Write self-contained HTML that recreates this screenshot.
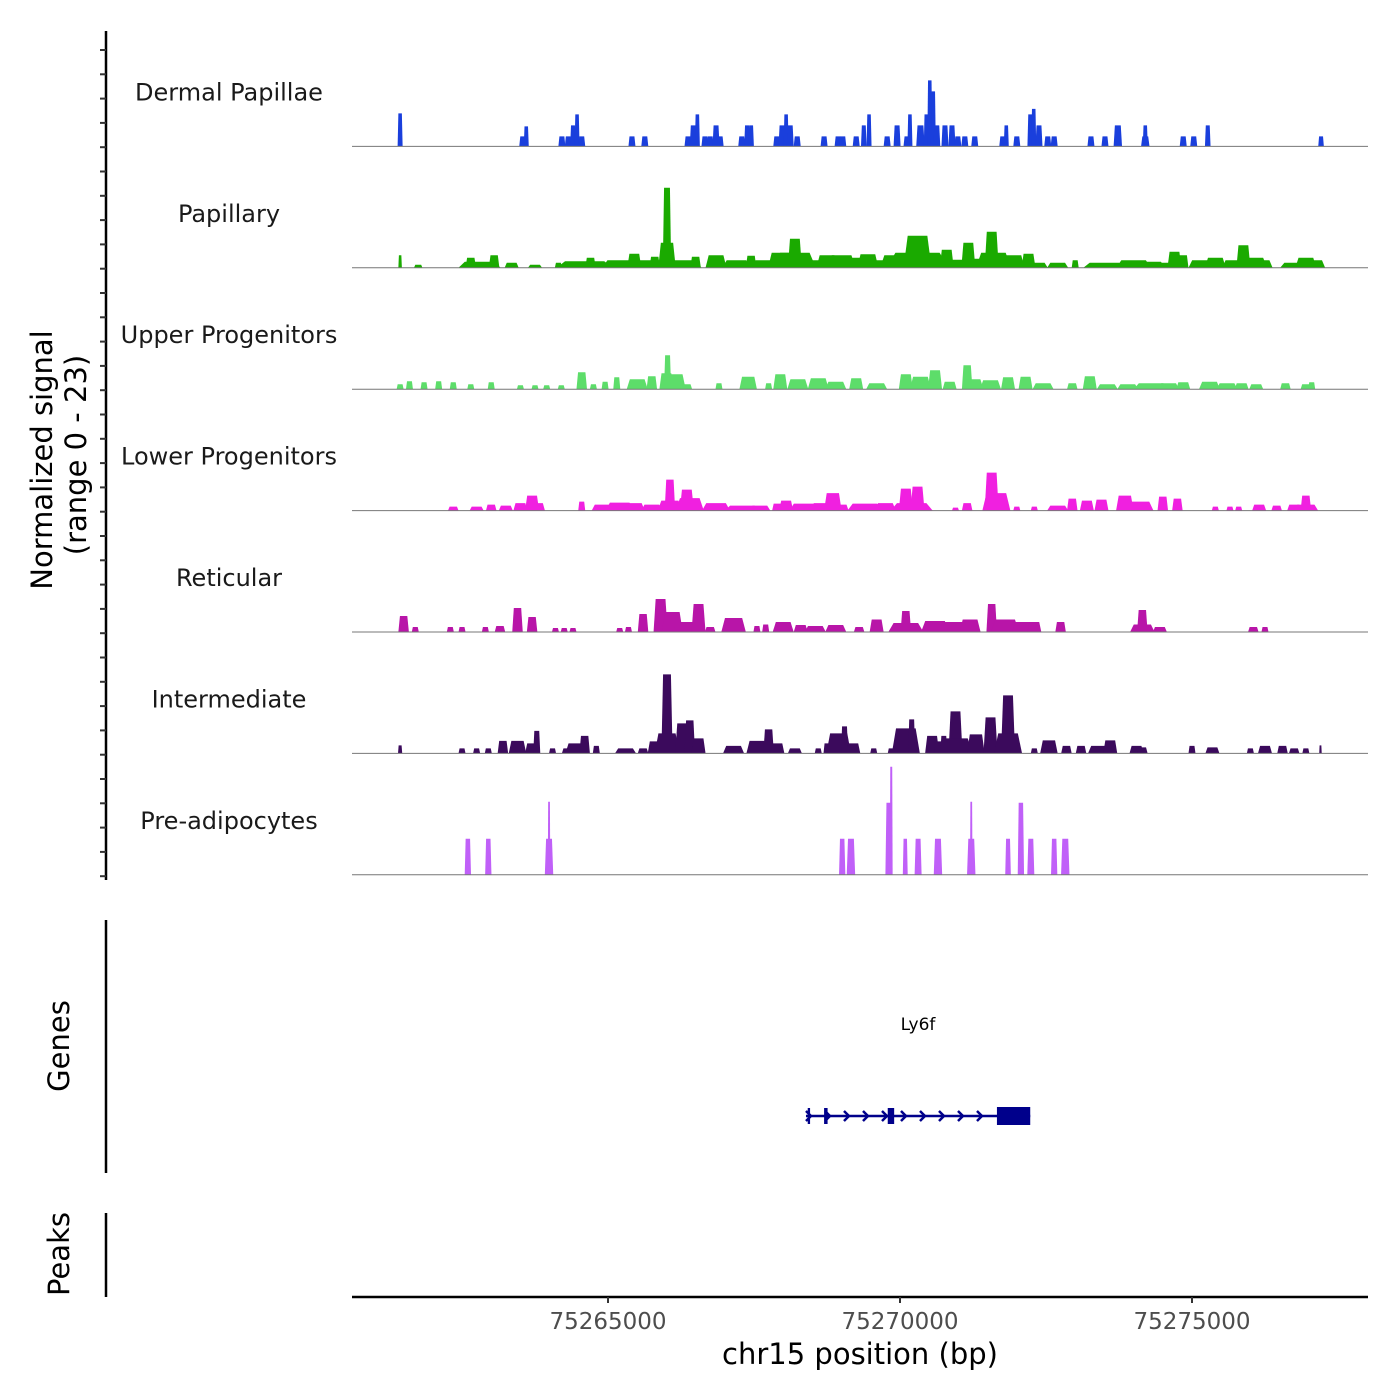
<!DOCTYPE html>
<html><head><meta charset="utf-8">
<style>
html,body{margin:0;padding:0;background:#fff;}
svg{display:block;font-family:"DejaVu Sans","Liberation Sans",sans-serif;}
</style></head>
<body>
<svg id="chart" width="1400" height="1400" viewBox="0 0 1400 1400" xmlns="http://www.w3.org/2000/svg">
<g id="tracks"></g>
<g id="axes"></g>
<g id="genes"></g>
</svg>
<script>
// ---- data (positions in kb offset from 75260000, signal value, width kb) ----
const trackNames = ["Dermal Papillae","Papillary","Upper Progenitors","Lower Progenitors","Reticular","Intermediate","Pre-adipocytes"];
const trackColors = ["#1a3fdc","#1aaa00","#5ddd6a","#f020e0","#b815a8","#3b0a5c","#c060f8"];
const xTicks = [75265000,75270000,75275000];
const yRangeMax = 23;
const dermalPapillae = [[1.44,6.6,0.06],[3.54,2,0.1],[3.60,4,0.06],[4.21,2,0.1],[4.32,2,0.1],[4.40,4.2,0.08],[4.47,6.4,0.06],[4.55,2,0.1],[5.41,2,0.1],[5.63,2,0.1],[6.37,2,0.1],[6.46,4.2,0.1],[6.53,6.4,0.06],[6.66,2,0.1],[6.75,2,0.1],[6.85,4.2,0.1],[6.92,2,0.1],[7.29,2,0.1],[7.38,4.2,0.08],[7.45,4.2,0.08],[7.89,2,0.1],[7.98,4.2,0.1],[8.05,6.4,0.06],[8.12,4.2,0.1],[8.24,2,0.1],[8.70,2,0.1],[8.94,2,0.1],[9.02,2,0.1],[9.25,2,0.1],[9.38,4.2,0.08],[9.47,6.4,0.06],[9.78,2,0.1],[9.95,4.2,0.1],[10.12,2,0.1],[10.17,6.4,0.06],[10.35,4.2,0.12],[10.45,6.4,0.06],[10.51,13.2,0.06],[10.57,11,0.06],[10.63,4.2,0.1],[10.77,4.2,0.1],[10.89,4.2,0.1],[10.99,2,0.1],[11.11,2,0.1],[11.28,2,0.1],[11.76,2,0.1],[11.82,4.2,0.06],[12.00,2,0.1],[12.23,6.4,0.08],[12.29,7.5,0.06],[12.38,4.2,0.1],[12.53,2,0.1],[12.64,2,0.1],[13.27,2,0.1],[13.51,2,0.1],[13.73,4.2,0.12],[14.20,2,0.12],[14.20,4.2,0.03],[14.85,2,0.1],[15.03,2,0.1],[15.27,4.2,0.08],[17.21,2,0.08]];
const papillary = [[1.44,2.5,0.05],[1.75,0.6,0.12],[2.8,1.2,0.6],[2.65,2,0.15],[3.05,2.5,0.15],[3.35,1,0.2],[3.75,0.6,0.2],[4.15,1,0.1],[4.6,1.3,0.8],[4.7,2,0.15],[5.2,1.5,0.5],[5.45,2.8,0.2],[5.7,1.5,0.4],[5.8,2.2,0.15],[5.9,1.5,0.3],[6.01,16,0.12],[6.01,5,0.25],[6.3,1.5,0.5],[6.5,2.2,0.15],[6.85,2.5,0.3],[7.2,1.5,0.4],[7.45,2.4,0.15],[7.65,1.5,0.3],[7.95,3,0.35],[8.2,5.8,0.2],[8.2,3,0.6],[8.5,1.5,0.4],[8.75,2.5,0.3],[9.0,2.5,0.4],[9.2,2,0.4],[9.45,2.7,0.3],[9.6,1.5,0.3],[9.9,2.5,0.4],[10.3,6.4,0.4],[10.3,3,0.9],[10.8,3.6,0.2],[11.0,1.6,0.3],[11.17,5,0.2],[11.3,1.8,0.3],[11.57,7.2,0.2],[11.6,3,0.5],[11.95,2.5,0.3],[12.2,2.8,0.2],[12.35,1,0.3],[12.7,1,0.3],[13.0,1.5,0.1],[13.5,1,0.6],[14.0,1.5,0.5],[14.3,1.2,0.4],[14.6,1,0.3],[14.7,3.2,0.2],[14.85,2.5,0.15],[15.15,1.5,0.35],[15.4,2,0.3],[15.7,1.5,0.3],[15.88,4.5,0.2],[16.05,2,0.4],[16.2,1.5,0.3],[16.75,1,0.4],[16.95,2,0.3],[17.1,1.5,0.3]];
const upperProgenitors = [[1.44,1,0.1],[1.6,1.6,0.1],[1.85,1.4,0.1],[2.1,1.6,0.1],[2.35,1.4,0.1],[2.65,1,0.1],[3.0,1.4,0.1],[3.5,0.8,0.1],[3.75,0.8,0.1],[3.95,0.8,0.1],[4.2,0.8,0.1],[4.55,3.4,0.15],[4.75,1,0.1],[4.95,1.5,0.1],[5.15,2.4,0.1],[5.5,2,0.3],[5.75,2.6,0.15],[6.0,3.2,0.2],[6.02,6.8,0.1],[6.15,3,0.3],[6.35,1,0.15],[6.9,1.2,0.1],[7.4,2.5,0.25],[7.75,1.2,0.1],[7.95,3,0.2],[8.25,2,0.3],[8.6,2.2,0.3],[8.9,1.5,0.3],[9.25,2.2,0.2],[9.6,1.2,0.3],[10.1,3,0.2],[10.35,2.5,0.3],[10.6,3.8,0.2],[10.85,1.5,0.2],[11.15,4.8,0.15],[11.25,2,0.3],[11.55,1.8,0.3],[11.85,2.4,0.2],[12.15,2.5,0.2],[12.45,1.2,0.3],[12.95,1.2,0.15],[13.25,2.6,0.2],[13.55,1,0.3],[13.9,1,0.3],[14.3,1.2,0.5],[14.6,1.2,0.3],[14.85,1.4,0.2],[15.3,1.5,0.3],[15.6,1.2,0.3],[15.85,1.2,0.2],[16.1,1,0.2],[16.6,1.2,0.15],[16.95,1,0.15],[17.05,1.4,0.1]];
const lowerProgenitors = [[2.35,0.8,0.15],[2.75,0.8,0.2],[3.0,1.2,0.15],[3.25,1,0.2],[3.5,1.5,0.2],[3.7,3,0.2],[3.8,1.5,0.2],[4.55,1.8,0.1],[4.9,1.2,0.3],[5.2,1.6,0.4],[5.45,1.5,0.3],[5.75,1.2,0.3],[6.06,6.2,0.15],[6.06,2,0.35],[6.35,4.2,0.2],[6.4,2.5,0.4],[6.85,1.5,0.4],[7.3,1,0.5],[7.6,1,0.3],[7.9,1.4,0.15],[8.05,2,0.2],[8.35,1.4,0.4],[8.65,1.5,0.3],[8.85,3.5,0.25],[9.0,1.2,0.2],[9.4,1.4,0.5],[9.75,1.5,0.3],[10.1,4.4,0.2],[10.3,4.8,0.2],[10.2,1.5,0.6],[10.95,0.6,0.1],[11.15,1.5,0.15],[11.57,7.6,0.2],[11.65,3.5,0.4],[12.0,0.8,0.1],[12.3,0.8,0.1],[12.7,1,0.3],[12.95,2.4,0.15],[13.2,2,0.2],[13.45,2.2,0.2],[13.85,3,0.25],[14.1,1.8,0.4],[14.5,2.8,0.15],[14.75,2.4,0.15],[15.4,0.8,0.1],[15.65,0.8,0.1],[15.8,0.8,0.1],[16.15,1.2,0.2],[16.45,1,0.15],[16.75,1.2,0.2],[16.95,3,0.15],[16.95,1.2,0.35]];
const reticular = [[1.5,3.2,0.15],[1.7,1,0.1],[2.3,1,0.1],[2.5,1,0.1],[2.9,1,0.1],[3.15,1.2,0.15],[3.45,4.8,0.15],[3.7,3,0.15],[4.1,0.8,0.1],[4.25,0.8,0.1],[4.4,0.8,0.1],[5.2,0.8,0.1],[5.35,1,0.1],[5.6,3.6,0.15],[5.9,6.6,0.2],[6.1,4,0.3],[6.35,2,0.4],[6.55,5.6,0.2],[6.75,1,0.15],[7.15,2.8,0.35],[7.55,1.2,0.1],[7.7,1.5,0.1],[8.0,2,0.3],[8.3,1.4,0.2],[8.55,1.2,0.3],[8.9,1.4,0.3],[9.3,1,0.15],[9.6,2.5,0.2],[10.1,4.2,0.15],[10.1,1.8,0.5],[10.6,2.2,0.4],[10.9,2,0.4],[11.2,2.5,0.3],[11.57,5.6,0.15],[11.8,2.5,0.4],[12.1,2,0.3],[12.3,2,0.2],[12.75,2,0.15],[14.15,4.4,0.15],[14.15,1.5,0.35],[14.45,1,0.2],[16.05,1,0.15],[16.25,1,0.1]];
const intermediate = [[1.44,1.6,0.06],[2.5,1,0.1],[2.75,1,0.1],[2.95,1,0.1],[3.2,2.5,0.15],[3.45,2.5,0.25],[3.7,2,0.2],[3.78,4.5,0.1],[4.05,1,0.1],[4.3,1,0.15],[4.45,2,0.3],[4.6,3.5,0.15],[4.8,1.5,0.1],[5.3,1,0.3],[5.6,1,0.15],[5.8,2.4,0.2],[6.01,15.8,0.16],[6.01,4,0.35],[6.27,6,0.2],[6.4,6.6,0.15],[6.55,3,0.2],[7.15,1.5,0.3],[7.55,2.5,0.3],[7.75,4.8,0.15],[7.9,2,0.2],[8.2,1,0.2],[8.6,1,0.1],[8.75,2,0.1],[8.95,4,0.35],[9.05,5.4,0.1],[9.2,2,0.2],[9.55,1,0.1],[9.85,1,0.1],[10.1,5,0.4],[10.2,6.8,0.1],[10.55,3.5,0.2],[10.7,2.4,0.2],[10.75,3.5,0.1],[10.95,8.4,0.2],[10.95,3,0.5],[11.3,3.8,0.25],[11.55,7.2,0.2],[11.85,11.6,0.2],[11.85,4,0.4],[12.3,1,0.1],[12.55,2.6,0.25],[12.85,1.5,0.15],[13.1,1.5,0.15],[13.4,1.5,0.3],[13.6,2.6,0.2],[14.05,1.5,0.2],[14.15,1.2,0.15],[15.0,1.5,0.1],[15.35,1.2,0.2],[16.0,1,0.1],[16.25,1.5,0.2],[16.55,1.5,0.15],[16.75,1,0.15],[16.95,1,0.1],[17.2,1.6,0.03]];
const preAdipocytes = [[2.60,7.2,0.09],[2.95,7.2,0.09],[3.99,7.2,0.12],[3.99,14.6,0.03],[9.01,7.2,0.09],[9.16,7.2,0.12],[9.81,14.4,0.1],[9.85,21.6,0.04],[10.09,7.2,0.07],[10.31,7.2,0.1],[10.65,7.2,0.12],[11.22,7.2,0.12],[11.22,14.6,0.03],[11.85,7.2,0.08],[12.07,14.4,0.09],[12.24,7.2,0.1],[12.64,7.2,0.09],[12.83,7.2,0.12]];
const geneSpan = [8.39,12.23];
const geneExons = [[8.42,8.46],[8.70,8.76],[9.79,9.90],[11.66,12.23]];

const NS="http://www.w3.org/2000/svg";
const X0=352,X1=1368,KB0=0.616,KB1=18.014;
function xs(kb){return X0+(kb-KB0)/(KB1-KB0)*(X1-X0);}
function xbp(bp){return xs((bp-75260000)/1000);}
const trackTop=30, trackH=121.4, pxPerUnit=5;
function ys(v,base){return base-v*pxPerUnit;}
function mk(tag,attrs,parent){const e=document.createElementNS(NS,tag);for(const k in attrs)e.setAttribute(k,attrs[k]);parent.appendChild(e);return e;}
const tracksG=document.getElementById('tracks');
const axesG=document.getElementById('axes');
const genesG=document.getElementById('genes');
const allData=[dermalPapillae,papillary,upperProgenitors,lowerProgenitors,reticular,intermediate,preAdipocytes];
allData.forEach((data,i)=>{
  const base=trackTop+trackH*(i+1)-5;
  const g=mk('g',{},tracksG);
  
  
  const lbl=mk('text',{x:229,y:base-46,'text-anchor':'middle','font-size':24,fill:'#1a1a1a'},g);
  lbl.textContent=trackNames[i];
  
  
  const minW = i===0 ? 5 : 2.5;
  data.forEach(d=>{
    const cx=xs(d[0]),w=Math.max(d[2]*(X1-X0)/(KB1-KB0)*1.2,minW),top=ys(d[1],base);
    const tw=w*0.7;
    const p=mk('polygon',{points:`${cx-w/2},${base} ${cx-tw/2},${top} ${cx+tw/2},${top} ${cx+w/2},${base}`,fill:trackColors[i]},g);
    
    
  });
  const bl=mk('line',{x1:X0,x2:X1,y1:base,y2:base,stroke:'#777',"stroke-width":1},g);
  
  
});
// left y axis
const ya=mk('line',{x1:106,x2:106,y1:31,y2:880,stroke:'#000','stroke-width':2.5},axesG);


for(let k=0;k<35;k++){
  const y=50+k*24.3;
  const t=mk('line',{x1:100,x2:106,y1:y,y2:y,stroke:'#333','stroke-width':2},axesG);
  
  
}
const yt=mk('text',{transform:'translate(52,460) rotate(-90)','text-anchor':'middle','font-size':29,fill:'#000'},axesG);
yt.textContent='Normalized signal';


const yt2=mk('text',{transform:'translate(86,455) rotate(-90)','text-anchor':'middle','font-size':29,fill:'#000'},axesG);
yt2.textContent='(range 0 - '+yRangeMax+')';


// genes / peaks axes
const ga=mk('line',{x1:106,x2:106,y1:920,y2:1173,stroke:'#000','stroke-width':2.5},axesG);


const gt=mk('text',{transform:'translate(69,1046) rotate(-90)','text-anchor':'middle','font-size':29,fill:'#000'},axesG);
gt.textContent='Genes';


const pa=mk('line',{x1:106,x2:106,y1:1213,y2:1297,stroke:'#000','stroke-width':2.5},axesG);


const pt=mk('text',{transform:'translate(69,1254) rotate(-90)','text-anchor':'middle','font-size':29,fill:'#000'},axesG);
pt.textContent='Peaks';


// x axis
const xa=mk('line',{x1:X0,x2:X1,y1:1297,y2:1297,stroke:'#000','stroke-width':2.5},axesG);


xTicks.forEach(b=>{
  const x=xbp(b);
  const t=mk('line',{x1:x,x2:x,y1:1297,y2:1303,stroke:'#333','stroke-width':2},axesG);
  
  
  const l=mk('text',{x:x,y:1329,'text-anchor':'middle','font-size':23,fill:'#4d4d4d'},axesG);
  l.textContent=String(b);
  
  
});
const xt=mk('text',{x:860,y:1364,'text-anchor':'middle','font-size':29,fill:'#000'},axesG);
xt.textContent='chr15 position (bp)';


// gene model
const gy=1116, navy='#00008b';
const gl=mk('line',{x1:xs(geneSpan[0]),x2:xs(geneSpan[1]),y1:gy,y2:gy,stroke:navy,'stroke-width':2.5},genesG);


for(let x=xs(geneSpan[0])+3;x<xs(geneExons[3][0]);x+=19){
  const c=mk('polyline',{points:`${x-3},${gy-5} ${x+2},${gy} ${x-3},${gy+5}`,fill:'none',stroke:navy,'stroke-width':2.5},genesG);
  
  
}
geneExons.forEach((e,i)=>{
  const big=i===3;
  const r=mk('rect',{x:xs(e[0]),y:big?gy-9:gy-8,width:xs(e[1])-xs(e[0]),height:big?18:16,fill:navy},genesG);
  
  
});
const gn=mk('text',{x:918,y:1030,'text-anchor':'middle','font-size':17,fill:'#000'},genesG);
gn.textContent='Ly6f';


</script>
</body></html>
